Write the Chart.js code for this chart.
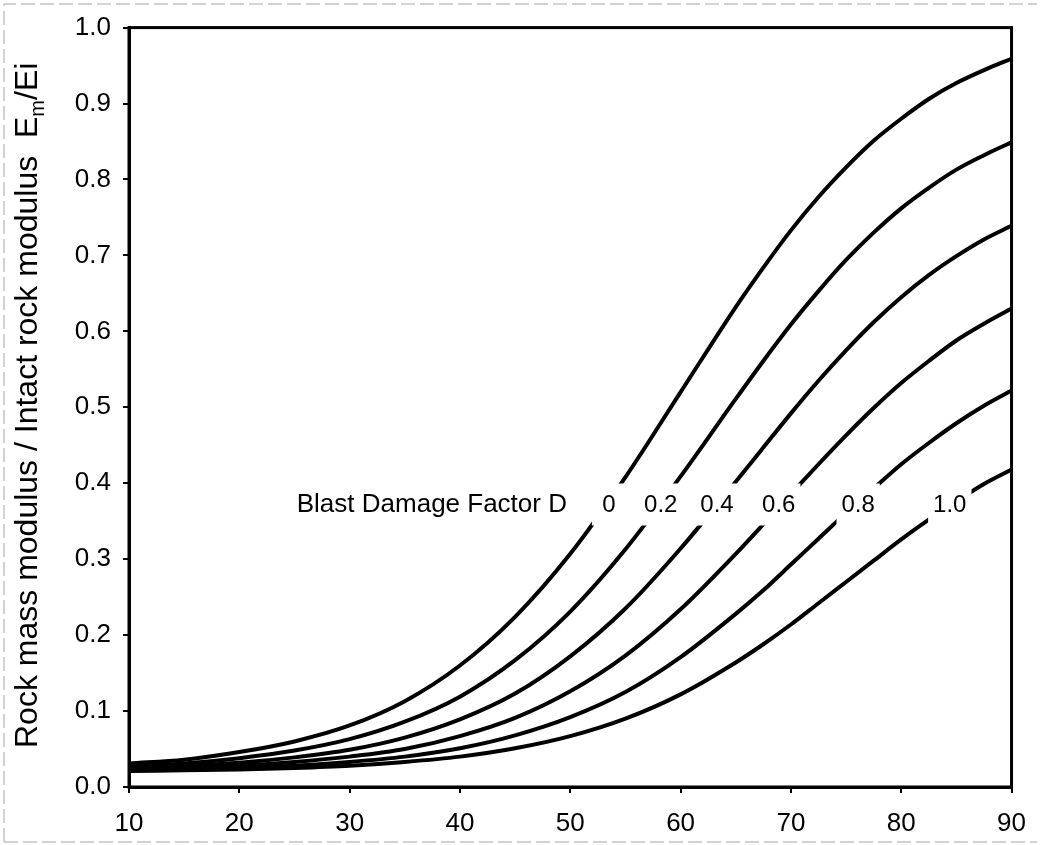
<!DOCTYPE html>
<html>
<head>
<meta charset="utf-8">
<title>Blast damage factor</title>
<script src="https://cdn.jsdelivr.net/npm/chart.js@4.4.1/dist/chart.umd.min.js"></script>
<style>
  html, body { margin: 0; padding: 0; background: #fff; }
  #wrap { width: 1041px; height: 845px; }
</style>
</head>
<body>
<div id="wrap"><canvas id="modulusChart" width="1041" height="845"></canvas></div>
<script>
// GSI values along the x axis (denser where the curves bend over)
const gsi = [10, 15, 20, 25, 30, 35, 40, 45, 50, 55, 60, 65, 67.5, 70, 72.5, 75, 77.5, 80, 82.5, 85, 87.5, 90];

// Erm/Ei for each blast damage factor D
const ratioD00 = [0.031, 0.036, 0.046, 0.060, 0.081, 0.113, 0.160, 0.224, 0.307, 0.408, 0.520, 0.632, 0.684, 0.733, 0.777, 0.816, 0.851, 0.880, 0.906, 0.927, 0.944, 0.959];
const ratioD02 = [0.027, 0.031, 0.038, 0.048, 0.063, 0.086, 0.119, 0.167, 0.231, 0.313, 0.409, 0.511, 0.561, 0.609, 0.653, 0.694, 0.730, 0.762, 0.789, 0.813, 0.832, 0.849];
const ratioD04 = [0.025, 0.028, 0.032, 0.039, 0.049, 0.065, 0.089, 0.123, 0.172, 0.235, 0.314, 0.402, 0.447, 0.492, 0.535, 0.575, 0.612, 0.645, 0.674, 0.699, 0.721, 0.739];
const ratioD06 = [0.023, 0.025, 0.028, 0.033, 0.040, 0.050, 0.067, 0.091, 0.126, 0.173, 0.234, 0.307, 0.346, 0.386, 0.425, 0.463, 0.499, 0.532, 0.561, 0.588, 0.610, 0.630];
const ratioD08 = [0.022, 0.023, 0.025, 0.028, 0.033, 0.040, 0.051, 0.068, 0.092, 0.125, 0.171, 0.228, 0.259, 0.293, 0.327, 0.361, 0.393, 0.425, 0.453, 0.479, 0.502, 0.522];
const ratioD10 = [0.021, 0.022, 0.023, 0.025, 0.028, 0.033, 0.040, 0.051, 0.067, 0.090, 0.122, 0.164, 0.188, 0.214, 0.242, 0.270, 0.298, 0.326, 0.352, 0.376, 0.399, 0.418];

const damageLabels = ['0', '0.2', '0.4', '0.6', '0.8', '1.0'];
const xTicks = [10, 20, 30, 40, 50, 60, 70, 80, 90];
const yTicks = [0, 0.1, 0.2, 0.3, 0.4, 0.5, 0.6, 0.7, 0.8, 0.9, 1.0];

// where the D labels sit on the curves (GSI, ratio)
const labelGsi = [53.5, 58.2, 63.3, 68.9, 76.1, 84.4];
const labelLevel = 0.372;
const captionGsi = 49.7;

const FONT = '"Liberation Sans", Arial, Helvetica, sans-serif';
const INK = '#000';

const series = [ratioD00, ratioD02, ratioD04, ratioD06, ratioD08, ratioD10];

const datasets = series.map((vals, i) => ({
    label: 'D = ' + damageLabels[i],
    data: gsi.map((g, k) => ({ x: g, y: vals[k] })),
    borderColor: INK,
    borderWidth: 4,
    pointRadius: 0,
    fill: false,
    cubicInterpolationMode: 'monotone'
}));

// ------------------- Plugins -------------------
// white knockout behind each D label so the curve breaks around it
const curveLabels = {
    id: 'curveLabels',
    afterDatasetsDraw(chart) {
        const { ctx, scales: { x, y } } = chart;
        const py = y.getPixelForValue(labelLevel);
        ctx.save();
        ctx.font = '24px ' + FONT;
        ctx.textAlign = 'center';
        ctx.textBaseline = 'middle';
        damageLabels.forEach((txt, i) => {
            const px = x.getPixelForValue(labelGsi[i]);
            const w = Math.max(ctx.measureText(txt).width + 10, 34);
            ctx.fillStyle = '#fff';
            ctx.fillRect(px - w / 2, py - 21, w, 42);
            ctx.fillStyle = INK;
            ctx.fillText(txt, px, py + 1);
        });
        ctx.font = '26px ' + FONT;
        ctx.textAlign = 'right';
        ctx.fillText('Blast Damage Factor D', x.getPixelForValue(captionGsi), py);
        ctx.restore();
    }
};

// closed frame, rotated y title with subscript, faint page edge
const frameAndTitle = {
    id: 'frameAndTitle',
    afterDraw(chart) {
        const { ctx, chartArea: a } = chart;
        ctx.save();
        ctx.strokeStyle = INK;
        ctx.lineWidth = 3;
        ctx.strokeRect(a.left, a.top, a.right - a.left, a.bottom - a.top);

        ctx.translate(37, 748);
        ctx.rotate(-Math.PI / 2);
        ctx.fillStyle = INK;
        ctx.textBaseline = 'alphabetic';
        ctx.textAlign = 'left';
        ctx.font = '32px ' + FONT;
        const main = 'Rock mass modulus / Intact rock modulus  E';
        ctx.fillText(main, 0, 0);
        let pos = ctx.measureText(main).width;
        ctx.font = '20px ' + FONT;
        ctx.fillText('m', pos, 7);
        pos += ctx.measureText('m').width;
        ctx.font = '32px ' + FONT;
        ctx.fillText('/Ei', pos, 0);
        ctx.restore();

        ctx.save();
        ctx.strokeStyle = '#c4c4c4';
        ctx.lineWidth = 1.5;
        ctx.setLineDash([14, 5]);
        ctx.beginPath();
        ctx.moveTo(4, 842);
        ctx.lineTo(4, 4);
        ctx.lineTo(1037, 4);
        ctx.moveTo(4, 842);
        ctx.lineTo(1037, 842);
        ctx.stroke();
        ctx.restore();
    }
};

new Chart(document.getElementById('modulusChart'), {
    type: 'line',
    data: { datasets },
    options: {
        responsive: false,
        animation: false,
        events: [],
        layout: { padding: { left: 0, top: 20, right: 18, bottom: 0 } },
        plugins: {
            legend: { display: false },
            tooltip: { enabled: false }
        },
        scales: {
            x: {
                type: 'linear',
                min: 10,
                max: 90,
                afterFit: s => { s.height = 58; },
                afterBuildTicks: s => { s.ticks = xTicks.map(v => ({ value: v })); },
                grid: { drawOnChartArea: false, drawTicks: true, tickLength: 6, color: INK, lineWidth: 2 },
                border: { display: true, color: INK, width: 3 },
                ticks: {
                    color: INK,
                    padding: 15,
                    maxRotation: 0,
                    font: { family: FONT, size: 26 }
                }
            },
            y: {
                min: 0,
                max: 1,
                afterFit: s => { s.width = 129; },
                afterBuildTicks: s => { s.ticks = yTicks.map(v => ({ value: v })); },
                grid: { drawOnChartArea: false, drawTicks: true, tickLength: 6, color: INK, lineWidth: 2 },
                border: { display: true, color: INK, width: 3 },
                ticks: {
                    color: INK,
                    padding: 12,
                    font: { family: FONT, size: 26 },
                    callback: v => v.toFixed(1)
                }
            }
        }
    },
    plugins: [curveLabels, frameAndTitle]
});
</script>
</body>
</html>
